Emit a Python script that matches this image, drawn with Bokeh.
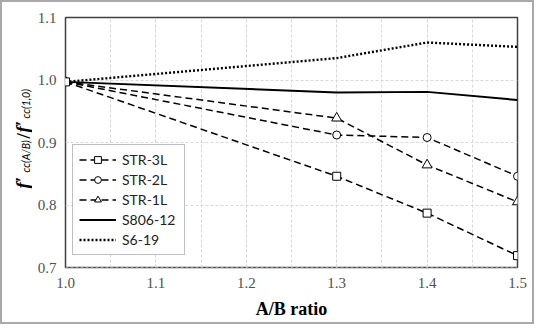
import math
from bokeh.plotting import figure
from bokeh.layouts import row
from bokeh.models import (Legend, LegendItem, SingleIntervalTicker,
                          PrintfTickFormatter)
from bokeh.core.properties import value
from bokeh.embed import file_html
from bokeh.resources import INLINE

# ---- data ----
ratio = [1.0, 1.3, 1.4, 1.5]
str_3l = [0.997, 0.846, 0.787, 0.719]
str_2l = [0.997, 0.912, 0.908, 0.846]
str_1l = [0.997, 0.939, 0.864, 0.805]
s806_12 = [0.997, 0.980, 0.981, 0.968]
s6_19 = [0.997, 1.035, 1.060, 1.053]
x_label = "A/B ratio"

CH = 320           # canvas height (inside the 2px outer border)
LW = 30            # width of the strip holding the y-axis title
MW = 500           # width of the main chart
BT, BB = 15, 55    # top / bottom borders (shared by both parts)
X0, X1, Y0, Y1 = 1.0, 1.5, 0.7, 1.1

p = figure(width=MW, height=CH, x_range=(X0, X1), y_range=(Y0, Y1),
           output_backend="svg", toolbar_location=None,
           min_border_left=33, min_border_right=15,
           min_border_top=BT, min_border_bottom=BB,
           background_fill_color="white", border_fill_color="white")
p.outline_line_color = "#404040"
p.outline_line_width = 1.5

p.xaxis.ticker = SingleIntervalTicker(interval=0.1, num_minor_ticks=2)
p.yaxis.ticker = SingleIntervalTicker(interval=0.1, num_minor_ticks=0)
for ax in (p.xaxis, p.yaxis):
    ax.formatter = PrintfTickFormatter(format="%.1f")
    ax.axis_line_color = None
    ax.major_tick_line_color = None
    ax.minor_tick_line_color = None
    ax.major_tick_out = 0
    ax.major_tick_in = 0
    ax.minor_tick_out = 0
    ax.major_label_text_font = "Liberation Serif"
    ax.major_label_text_font_size = "15px"
    ax.major_label_text_color = "#505050"
p.xaxis.major_label_standoff = 10
p.yaxis.major_label_standoff = 9
p.xaxis.axis_label = x_label
p.xaxis.axis_label_text_font = "Liberation Serif"
p.xaxis.axis_label_text_font_style = "bold"
p.xaxis.axis_label_text_font_size = "18px"
p.xaxis.axis_label_text_color = "black"
p.xaxis.axis_label_standoff = 8

p.xgrid.grid_line_color = "#d9d9d9"
p.xgrid.grid_line_dash = "3 2"
p.xgrid.minor_grid_line_color = "#d9d9d9"
p.xgrid.minor_grid_line_dash = "3 2"
p.ygrid.grid_line_color = "#d9d9d9"
p.ygrid.grid_line_dash = "3 2"

dash = "7 4"
r3l = p.line(ratio, str_3l, line_color="black", line_width=1.5, line_dash=dash)
r2l = p.line(ratio, str_2l, line_color="black", line_width=1.5, line_dash=dash)
r1l = p.line(ratio, str_1l, line_color="black", line_width=1.5, line_dash=dash)
rs8 = p.line(ratio, s806_12, line_color="black", line_width=2)
rs6 = p.line(ratio, s6_19, line_color="black", line_width=2.4, line_dash="2 2")
m1l = p.scatter(ratio, str_1l, marker="triangle", size=10, fill_color="white",
                line_color="black", line_width=1)
m2l = p.scatter(ratio, str_2l, marker="circle", size=8, fill_color="white",
                line_color="black", line_width=1)
m3l = p.scatter(ratio, str_3l, marker="square", size=8, fill_color="white",
                line_color="black", line_width=1)

legend = Legend(items=[
    LegendItem(label="STR-3L", renderers=[r3l, m3l]),
    LegendItem(label="STR-2L", renderers=[r2l, m2l]),
    LegendItem(label="STR-1L", renderers=[r1l, m1l]),
    LegendItem(label="S806-12", renderers=[rs8]),
    LegendItem(label="S6-19", renderers=[rs6]),
], location=(7, 12))
legend.label_text_font = "Lato"
legend.label_text_font_size = "14px"
legend.label_text_color = "#222222"
legend.glyph_width = 37
legend.glyph_height = 17
legend.label_height = 17
legend.label_width = 56
legend.label_standoff = 6
legend.spacing = 3
legend.padding = 6
legend.margin = 0
legend.border_line_color = "#7f7f7f"
legend.border_line_width = 1
legend.background_fill_alpha = 1
p.add_layout(legend, "center")

# ---- strip with the y-axis title (main letters + subscripts) ----
# its frame is aligned with the main frame; data y = CH - (px from canvas top)
t = figure(width=LW, height=CH, x_range=(0, LW), y_range=(BB, CH - BT),
           output_backend="svg", toolbar_location=None,
           x_axis_type=None, y_axis_type=None,
           min_border_left=0, min_border_right=0,
           min_border_top=BT, min_border_bottom=BB,
           background_fill_color="white", border_fill_color="white")
t.outline_line_color = None
t.xgrid.visible = False
t.ygrid.visible = False

# (text, baseline x, start y in px from canvas top, font, style, size)
pieces = [
    ("f\u2032", 20, 186, "Liberation Serif", "bold italic", "19px"),
    ("cc(A/B)", 23, 170, "Lato", "italic", "10.5px"),
    ("/", 21, 136, "Liberation Serif", "bold", "19px"),
    ("f\u2032", 20, 130, "Liberation Serif", "bold italic", "19px"),
    ("cc(1,0)", 23, 116, "Lato", "italic", "10.5px"),
]
for txt, bx, by, font, style, size in pieces:
    t.text(x=[bx], y=[CH - by], text=[txt], angle=math.pi / 2,
           text_align="left", text_baseline="alphabetic",
           text_font=value(font), text_font_style=style,
           text_font_size=size, text_color="black")

layout = row(t, p, spacing=0,
             styles={"border": "2px solid #a9a9a9", "background": "white"})

open("out.html", "w").write(file_html(layout, INLINE))
